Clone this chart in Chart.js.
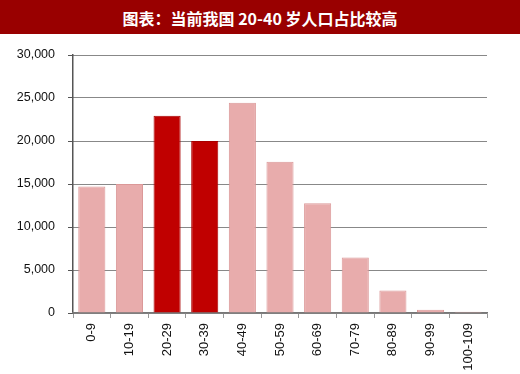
<!DOCTYPE html>
<html>
<head>
<meta charset="utf-8">
<script src="https://cdn.jsdelivr.net/npm/chart.js@4"></script>
<style>
html,body{margin:0;padding:0;background:#fff;width:520px;height:374px;overflow:hidden;}
#title{width:520px;height:34px;background:#990000;color:#fff;font:bold 16px "Noto Sans CJK SC","DejaVu Sans",sans-serif;line-height:36px;text-align:center;white-space:pre;}
#wrap{position:absolute;left:0;top:34px;width:520px;height:340px;}
</style>
</head>
<body>
<div id="title">图表：当前我国 20-40 岁人口占比较高</div>
<div id="wrap"><canvas id="c" width="520" height="340"></canvas></div>
<script>
const categories = ["0-9","10-19","20-29","30-39","40-49","50-59","60-69","70-79","80-89","90-99","100-109"];
const population = [14700, 15000, 22950, 20000, 24450, 17600, 12750, 6450, 2630, 390, 150];
const highlighted = ["20-29","30-39"];
const yTicks = [0, 5000, 10000, 15000, 20000, 25000, 30000];

const fills = categories.map(c => highlighted.includes(c) ? "#C00000" : "#E8ACAC");
const borders = categories.map(c => highlighted.includes(c) ? "#A80000" : "#DB9898");

new Chart(document.getElementById("c"), {
  type: "bar",
  data: {
    labels: categories,
    datasets: [{
      data: population,
      backgroundColor: fills,
      borderColor: borders,
      borderWidth: 1,
      categoryPercentage: 1,
      barPercentage: 0.72
    }]
  },
  options: {
    responsive: false,
    animation: false,
    layout: { padding: { top: 21, right: 33, left: 0, bottom: 0 } },
    plugins: { legend: { display: false }, tooltip: { enabled: false } },
    scales: {
      y: {
        min: 0, max: 30000,
        afterFit: s => { s.width = 73; },
        afterBuildTicks: s => { s.ticks = yTicks.map(v => ({ value: v })); },
        ticks: {
          color: "#111",
          font: { family: "'Liberation Sans', Arial, sans-serif", size: 12.5 },
          padding: 13,
          callback: v => v.toLocaleString("en-US")
        },
        grid: {
          color: "#111",
          lineWidth: 1,
          drawTicks: true,
          tickLength: 5,
          tickColor: "#555",
          tickBorderDash: []
        },
        border: { display: true, color: "#555", width: 1.5, dash: [1, 1] }
      },
      x: {
        afterFit: s => { s.height = 61; },
        ticks: {
          color: "#111",
          font: { family: "'Liberation Sans', Arial, sans-serif", size: 13 },
          minRotation: 90, maxRotation: 90,
          padding: 5,
          autoSkip: false
        },
        grid: {
          offset: true,
          drawOnChartArea: false,
          drawTicks: true,
          tickLength: 5,
          tickColor: "#999"
        },
        border: { display: true, color: "#777", width: 1.5 }
      }
    }
  }
});
</script>
</body>
</html>
